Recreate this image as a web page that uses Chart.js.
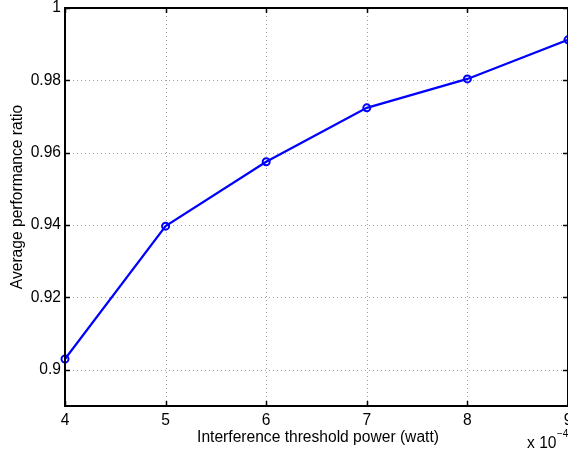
<!DOCTYPE html>
<html>
<head>
<meta charset="utf-8">
<script src="https://cdn.jsdelivr.net/npm/chart.js@4.4.0/dist/chart.umd.min.js"></script>
<style>
  html, body { margin: 0; padding: 0; background: #fff; }
  #wrap { width: 568px; height: 454px; }
</style>
</head>
<body>
<div id="wrap"><canvas id="perf"></canvas></div>
<script>
// threshold power, in units of 1e-4 watt
const thresholdPower = [4, 5, 6, 7, 8, 9];
const performanceRatio = [0.903, 0.9397, 0.9575, 0.9724, 0.9804, 0.9912];
const xTicks = [4, 5, 6, 7, 8, 9];
const yTicks = [0.9, 0.92, 0.94, 0.96, 0.98, 1];

const FONT = 'Liberation Sans, Arial, Helvetica, sans-serif';
const FS = 15.6;

// matlab style box, dotted grid and inward ticks
const matlabAxes = {
    id: 'matlabAxes',
    beforeDatasetsDraw(chart) {
        const ctx = chart.ctx, a = chart.chartArea;
        const xs = chart.scales.x, ys = chart.scales.y;
        ctx.save();
        ctx.strokeStyle = '#a0a0a0';
        ctx.lineWidth = 1;
        ctx.setLineDash([1, 3]);
        xTicks.forEach(function (v) {
            const px = Math.round(xs.getPixelForValue(v)) + 0.5;
            ctx.beginPath(); ctx.moveTo(px, a.top); ctx.lineTo(px, a.bottom); ctx.stroke();
        });
        yTicks.forEach(function (v) {
            const py = Math.round(ys.getPixelForValue(v)) + 0.5;
            ctx.beginPath(); ctx.moveTo(a.left, py); ctx.lineTo(a.right, py); ctx.stroke();
        });
        ctx.restore();
    },
    afterDraw(chart) {
        const ctx = chart.ctx, a = chart.chartArea;
        const xs = chart.scales.x, ys = chart.scales.y;
        ctx.save();
        ctx.strokeStyle = '#000';
        ctx.lineWidth = 1.5;
        ctx.beginPath();
        xTicks.forEach(function (v) {
            const px = Math.round(xs.getPixelForValue(v)) + 0.5;
            ctx.moveTo(px, a.bottom); ctx.lineTo(px, a.bottom - 5);
            ctx.moveTo(px, a.top); ctx.lineTo(px, a.top + 5);
        });
        yTicks.forEach(function (v) {
            const py = Math.round(ys.getPixelForValue(v)) + 0.5;
            ctx.moveTo(a.left, py); ctx.lineTo(a.left + 5, py);
            ctx.moveTo(a.right, py); ctx.lineTo(a.right - 5, py);
        });
        ctx.stroke();
        ctx.lineWidth = 2;
        ctx.strokeRect(a.left, a.top, a.right - a.left, a.bottom - a.top);

        // titles
        ctx.fillStyle = '#000';
        ctx.font = FS + 'px ' + FONT;
        ctx.textAlign = 'center';
        ctx.textBaseline = 'middle';
        ctx.fillText('Interference threshold power (watt)', 318, 438);
        ctx.save();
        ctx.translate(18, 197);
        ctx.rotate(-Math.PI / 2);
        ctx.fillText('Average performance ratio', 0, 0);
        ctx.restore();
        // exponent
        ctx.textAlign = 'left';
        ctx.fillText('x 10', 527, 444);
        ctx.font = '10px ' + FONT;
        ctx.fillText('\u22124', 557, 434);
        ctx.restore();
    }
};

new Chart(document.getElementById('perf'), {
    type: 'line',
    data: {
        labels: thresholdPower,
        datasets: [{
            data: thresholdPower.map(function (x, i) { return { x: x, y: performanceRatio[i] }; }),
            borderColor: '#0000ff',
            borderWidth: 2.2,
            pointStyle: 'circle',
            pointRadius: 3.5,
            pointBorderWidth: 2,
            pointBorderColor: '#0000ff',
            pointBackgroundColor: 'rgba(0,0,0,0)',
            tension: 0,
            clip: false
        }]
    },
    options: {
        responsive: true,
        maintainAspectRatio: false,
        animation: false,
        layout: { autoPadding: false, padding: { top: 8, right: 0, left: 0, bottom: 0 } },
        scales: {
            x: {
                type: 'linear',
                min: 4,
                max: 9,
                afterBuildTicks: function (scale) {
                    scale.ticks = xTicks.map(function (v) { return { value: v }; });
                },
                afterFit: function (scale) {
                    scale.height = 48;
                    scale.paddingLeft = 0;
                    scale.paddingRight = 0;
                },
                grid: { display: false, drawTicks: false },
                border: { display: false },
                ticks: {
                    color: '#000',
                    font: { family: FONT, size: FS },
                    padding: 5,
                    maxRotation: 0,
                    callback: function (v) { return String(v); }
                }
            },
            y: {
                type: 'linear',
                min: 0.89,
                max: 1,
                afterBuildTicks: function (scale) {
                    scale.ticks = yTicks.map(function (v) { return { value: v }; });
                },
                afterFit: function (scale) {
                    scale.width = 65;
                    scale.paddingTop = 0;
                    scale.paddingBottom = 0;
                },
                grid: { display: false, drawTicks: false },
                border: { display: false },
                ticks: {
                    color: '#000',
                    font: { family: FONT, size: FS },
                    padding: 4,
                    callback: function (v) { return String(Math.round(v * 100) / 100); }
                }
            }
        },
        plugins: {
            legend: { display: false },
            tooltip: { enabled: false }
        }
    },
    plugins: [matlabAxes]
});
</script>
</body>
</html>
